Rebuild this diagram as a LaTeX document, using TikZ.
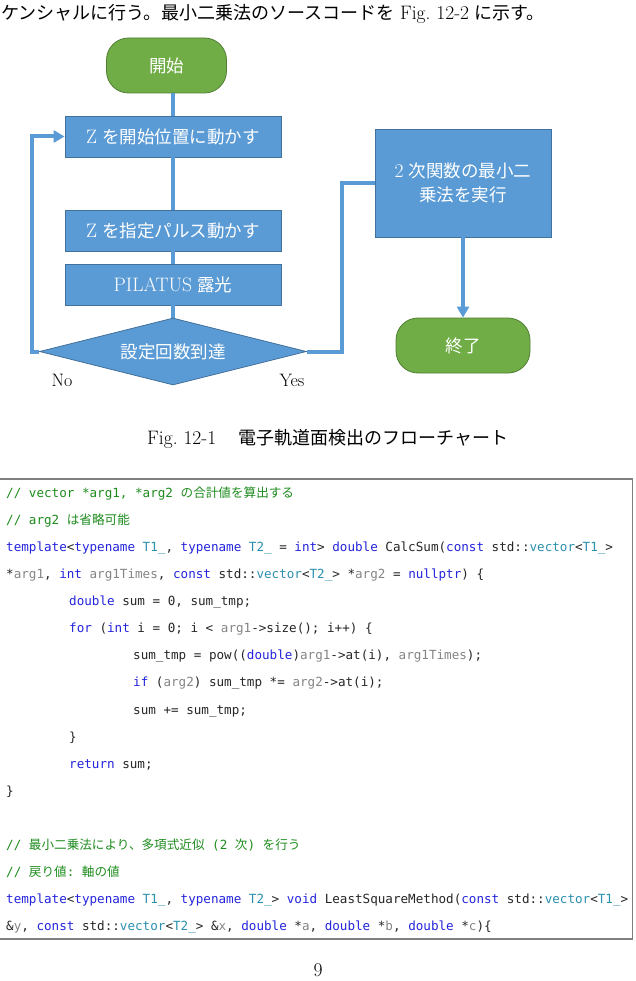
\documentclass[tikz,border=0pt]{standalone}
\usepackage{fontspec}
\newfontfamily\jpf{Noto Sans CJK JP}
\newfontfamily\codef{DejaVu Sans Mono}
\usetikzlibrary{shapes.geometric,arrows.meta}
\definecolor{boxblue}{HTML}{5B9BD5}
\definecolor{boxedge}{HTML}{41719C}
\definecolor{boxgreen}{HTML}{70AD47}
\definecolor{greenedge}{HTML}{507E32}
\definecolor{kwc}{HTML}{2424DD}
\definecolor{tyc}{HTML}{2B91AF}
\definecolor{pac}{HTML}{858585}
\definecolor{cmc}{HTML}{1E8C1E}
\definecolor{txc}{HTML}{262626}
\definecolor{framec}{HTML}{7F7F7F}
\newcommand\J[1]{{\jpf #1}}
\newcommand\lat[1]{{\fontsize{19.5}{22}\selectfont #1}}
\newcommand\kw[1]{\textcolor{kwc}{#1}}
\newcommand\ty[1]{\textcolor{tyc}{#1}}
\newcommand\pa[1]{\textcolor{pac}{#1}}
\newcommand\cm[1]{\textcolor{cmc}{#1}}
\frenchspacing
\begin{document}
\begin{tikzpicture}[x=1pt,y=-1pt,
  body/.style={inner sep=0pt, text=black, font=\fontsize{18}{22}\selectfont},
  proc/.style={draw=boxedge, line width=0.8pt, fill=boxblue, text=white, inner sep=0pt,
    font=\fontsize{17.5}{26}\selectfont, align=center},
  term/.style={draw=greenedge, line width=0.8pt, fill=boxgreen, text=white, inner sep=0pt,
    rounded corners=22pt, font=\fontsize{17.5}{22}\selectfont},
  flow/.style={draw=boxblue, line width=4pt},
  arr/.style={flow, -{Triangle[length=11pt,width=12pt]}},
  code/.style={anchor=base west, inner sep=0pt, text=txc, font=\codef\fontsize{12.6}{15}\selectfont}
]
\useasboundingbox (0,0) rectangle (636,981);
\fill[white] (0,0) rectangle (636,981);

% top text line
\node[body, anchor=west] (top) at (1,13.5) {\J{ケンシャルに行う。最小二乗法のソースコードを} \lat{Fig. 12-2} \J{に示す。}};

% flowchart nodes
\node[term, minimum width=120pt, minimum height=55pt] (start) at (166.5,65.5) {\J{開始}};
\node[proc, minimum width=216pt, minimum height=41pt] (b1) at (173,136.5) {\lat{Z} \J{を開始位置に動かす}};
\node[proc, minimum width=216pt, minimum height=41pt] (b2) at (173,230.5) {\lat{Z} \J{を指定パルス動かす}};
\node[proc, minimum width=216pt, minimum height=41pt] (b3) at (173,284.5) {\lat{PILATUS} \J{露光}};
\node[diamond, aspect=4, draw=boxedge, line width=0.8pt, fill=boxblue, text=white, inner sep=0pt,
  minimum width=267pt, minimum height=67pt, font=\fontsize{17.5}{22}\selectfont] (dia) at (173,351.5) {\raisebox{-3pt}{\J{設定回数到達}}};
\node[proc, minimum width=176pt, minimum height=108pt] (b4) at (463,183) {\lat{2} \J{次関数の最小二}\\[-2pt]\J{乗法を実行}};
\node[term, minimum width=134pt, minimum height=55pt] (end) at (463,345.5) {\J{終了}};

\node[body] (no) at (62,380) {No};
\node[body] (yes) at (292,380) {Yes};

% connectors
\coordinate (nL) at (32,351.5);
\coordinate (yR) at (342,351.5);
\draw[flow] (start.south -| b1.north) -- (b1.north);
\draw[flow] (b1.south) -- (b2.north);
\draw[flow] (b2.south) -- (b3.north);
\draw[flow] (b3.south) -- (dia.north);
\draw[arr] (dia.west) -- (nL) |- (b1.west);
\draw[flow] (dia.east) -- (yR) |- (b4.west);
\draw[arr] (b4.south) -- (end.north);

% caption
\node[body, anchor=west] (cap) at (147,439) {\lat{Fig. 12-1}\hspace{22pt}\J{電子軌道面検出のフローチャート}};

% code frame
\draw[framec, line width=1.2pt] (-3,479) rectangle (632.5,939);

\node[code] (c1) at (6,497.5) {\cm{// vector *arg1, *arg2 \J{の合計値を算出する}}};
\node[code] (c2) at (6,524.6) {\cm{// arg2 \J{は省略可能}}};
\node[code] (c3) at (6,551.6) {\kw{template}<\kw{typename} \ty{T1\_}, \kw{typename} \ty{T2\_} = \kw{int}> \kw{double} CalcSum(\kw{const} std::\ty{vector}<\ty{T1\_}>};
\node[code] (c4) at (6,578.7) {*\pa{arg1}, \kw{int} \pa{arg1Times}, \kw{const} std::\ty{vector}<\ty{T2\_}> *\pa{arg2} = \kw{nullptr}) \{};
\node[code] (c5) at (69,605.7) {\kw{double} sum = 0, sum\_tmp;};
\node[code] (c6) at (69,632.8) {\kw{for} (\kw{int} i = 0; i < \pa{arg1}->size(); i++) \{};
\node[code] (c7) at (133,659.9) {sum\_tmp = pow((\kw{double})\pa{arg1}->at(i), \pa{arg1Times});};
\node[code] (c8) at (133,686.9) {\kw{if} (\pa{arg2}) sum\_tmp *= \pa{arg2}->at(i);};
\node[code] (c9) at (133,714.0) {sum += sum\_tmp;};
\node[code] (c10) at (69,741.0) {\}};
\node[code] (c11) at (69,768.1) {\kw{return} sum;};
\node[code] (c12) at (6,795.2) {\}};
\node[code] (c14) at (6,849.3) {\cm{// \J{最小二乗法により、多項式近似} (2 \J{次}) \J{を行う}}};
\node[code] (c15) at (6,876.3) {\cm{// \J{戻り値}: \J{軸の値}}};
\node[code] (c16) at (6,903.4) {\kw{template}<\kw{typename} \ty{T1\_}, \kw{typename} \ty{T2\_}> \kw{void} LeastSquareMethod(\kw{const} std::\ty{vector}<\ty{T1\_}>};
\node[code] (c17) at (6,930.5) {\&\pa{y}, \kw{const} std::\ty{vector}<\ty{T2\_}> \&\pa{x}, \kw{double} *\pa{a}, \kw{double} *\pa{b}, \kw{double} *\pa{c})\{};

% page number
\node[body] (pg) at (318,970) {\lat{9}};
\end{tikzpicture}
\end{document}
